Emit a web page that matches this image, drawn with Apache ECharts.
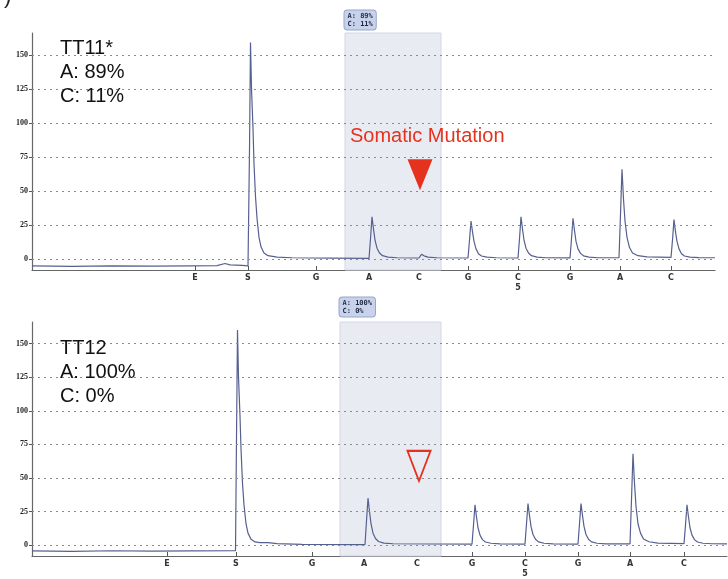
<!DOCTYPE html>
<html><head><meta charset="utf-8">
<script src="https://cdn.jsdelivr.net/npm/echarts@6/dist/echarts.min.js"></script>
<style>html,body{margin:0;padding:0;background:#fff}#c{width:728px;height:579px}</style>
</head><body><div id="c"></div>
<script>
const bases = ['E','S','G','A','C','G','C','G','A','C'];
const topTicks = [16.3, 21.6, 28.4, 33.7, 38.7, 43.6, 48.6, 53.8, 58.8, 63.9];
const botTicks = [13.5, 20.4, 28.0, 33.2, 38.5, 44.0, 49.3, 54.6, 59.8, 65.2];
const yTicks = [0, 25, 50, 75, 100, 125, 150];

const topTrace = [
  [0,-5],[4,-5.3],[8,-5],[12,-5.2],[16,-5],[18.5,-4.8],[19.3,-3.2],[19.8,-4.2],[21.0,-4.6],[21.6,-5],
  [21.75,80],[21.85,159],[21.95,125],[22.1,96],[22.2,70],[22.35,46],[22.5,30],[22.7,16],[22.9,9],[23.2,4.5],[23.6,2.5],[24.5,1.5],[26,1],[30,0.7],[33.7,0.5],
  [33.85,15],[34.0,31],[34.15,22],[34.3,14],[34.5,8],[34.75,4.5],[35.05,2.5],[35.6,1.5],[36.5,1],[38.7,0.8],
  [38.8,1],[38.95,3.5],[39.2,2.4],[39.6,1.5],[40.5,1],[43.6,0.8],
  [43.75,14],[43.9,28],[44.05,20],[44.2,13],[44.4,7.5],[44.65,4],[44.95,2.3],[45.5,1.4],[46.4,1],[48.6,0.8],
  [48.75,15],[48.9,31],[49.05,22],[49.2,14],[49.4,8],[49.65,4.5],[49.95,2.5],[50.5,1.5],[51.4,1],[53.8,0.9],
  [53.95,15],[54.1,30],[54.25,21],[54.4,13],[54.6,7.5],[54.85,4.2],[55.15,2.4],[55.7,1.5],[56.6,1],[58.7,1],
  [58.85,33],[59.0,66],[59.15,44],[59.3,28],[59.5,16],[59.75,8.5],[60.05,4.5],[60.6,2.5],[61.5,1.6],[63.9,1.2],
  [64.05,14],[64.2,29],[64.35,20],[64.5,13],[64.7,7.5],[64.95,4],[65.25,2.3],[65.8,1.5],[66.7,1.1],[68.3,1]
];
const botTrace = [
  [0,-4.2],[4,-4.5],[8,-4.1],[12,-4.4],[16,-4.2],[20.35,-4],
  [20.45,80],[20.55,160],[20.65,125],[20.8,96],[20.9,72],[21.05,46],[21.2,30],[21.4,16],[21.6,9],[21.9,4.5],[22.3,2.5],[22.8,2],[23.1,2],[23.3,3.2],[23.6,2],[24.5,1.2],[27,0.7],[33.3,0.5],
  [33.45,18],[33.6,35],[33.75,25],[33.9,16],[34.1,9],[34.35,5],[34.65,2.8],[35.2,1.6],[36.1,1.1],[44.0,0.8],
  [44.15,15],[44.3,30],[44.45,21],[44.6,13],[44.8,7.5],[45.05,4.2],[45.35,2.4],[45.9,1.5],[46.8,1],[49.3,0.9],
  [49.45,16],[49.6,31],[49.75,22],[49.9,14],[50.1,8],[50.35,4.5],[50.65,2.5],[51.2,1.5],[52.1,1],[54.6,0.9],
  [54.75,16],[54.9,31],[55.05,22],[55.2,14],[55.4,8],[55.65,4.5],[55.95,2.5],[56.5,1.5],[57.4,1],[59.8,1],
  [59.95,34],[60.1,68],[60.25,46],[60.4,29],[60.6,16],[60.85,9],[61.15,4.6],[61.7,2.6],[62.6,1.6],[65.2,1.2],
  [65.35,15],[65.5,30],[65.65,21],[65.8,13],[66.0,7.5],[66.25,4.2],[66.55,2.4],[67.1,1.5],[68.0,1.1],[69.5,1]
];
const topShade = [31.3, 40.9];
const botShade = [30.8, 40.9];
const topLabel = 'A: 89%\nC: 11%';
const botLabel = 'A: 100%\nC: 0%';
const topMarker = [[38.8, 62]];
const botMarker = [[38.7, 59]];

const chart = echarts.init(document.getElementById('c'));
function xAxisFor(idx, ticks, max) {
  return {
    type: 'value', gridIndex: idx, min: 0, max: max,
    axisLine: { onZero: false, lineStyle: { color: '#666', width: 1.2 } },
    axisTick: { show: true, inside: true, length: 4, customValues: ticks, lineStyle: { color: '#555' } },
    splitLine: { show: false },
    axisLabel: {
      customValues: ticks, margin: 3, color: '#333', fontSize: 8, fontWeight: 'bold',
      fontFamily: 'DejaVu Sans', lineHeight: 10,
      formatter: function (v) {
        for (let i = 0; i < ticks.length; i++) {
          if (Math.abs(v - ticks[i]) < 0.01) return i === 6 ? bases[i] + '\n5' : bases[i];
        }
        return '';
      }
    }
  };
}
function yAxisFor(idx) {
  return {
    type: 'value', gridIndex: idx, min: -8, max: 166,
    axisLine: { show: true, onZero: false, lineStyle: { color: '#666', width: 1.2 } },
    axisTick: { show: true, length: 3, customValues: yTicks, lineStyle: { color: '#555' } },
    splitLine: { show: false },
    axisLabel: { customValues: yTicks, margin: 4, color: '#222', fontSize: 8, fontWeight: 'bold', fontFamily: 'Liberation Serif' }
  };
}
function traceSeries(idx, data, shade, label, lblOffset) {
  return {
    type: 'line', xAxisIndex: idx, yAxisIndex: idx, data: data, showSymbol: false, symbol: 'none',
    lineStyle: { color: '#56608f', width: 1.2 }, z: 3, animation: false,
    markLine: {
      silent: true, symbol: 'none', label: { show: false },
      lineStyle: { color: '#8a8a8a', type: [2, 4], width: 1 },
      data: yTicks.map(v => ({ yAxis: v }))
    },
    markArea: {
      silent: true,
      itemStyle: { color: '#e9ebf3', opacity: 1, borderColor: '#d3d7e5', borderWidth: 1 },
      label: {
        show: true, position: [0, lblOffset], color: '#1f2a44', fontFamily: 'DejaVu Sans Mono',
        fontWeight: 'bold', fontSize: 7, lineHeight: 8, backgroundColor: '#c8d2ea',
        borderColor: '#97a6cc', borderWidth: 1, borderRadius: 3, padding: [2, 3, 1, 3]
      },
      data: [[{ xAxis: shade[0], name: label }, { xAxis: shade[1] }]]
    }
  };
}
chart.setOption({
  animation: false,
  grid: [
    { left: 32, top: 33, right: 13, bottom: 309 },
    { left: 32, top: 322, right: 1, bottom: 17 }
  ],
  xAxis: [xAxisFor(0, topTicks, 68.3), xAxisFor(1, botTicks, 69.5)],
  yAxis: [yAxisFor(0), yAxisFor(1)],
  series: [
    traceSeries(0, topTrace, topShade, topLabel, -22),
    traceSeries(1, botTrace, botShade, botLabel, -24),
    { type: 'scatter', xAxisIndex: 0, yAxisIndex: 0, data: topMarker, symbol: 'triangle', symbolRotate: 180,
      symbolSize: [25, 31], itemStyle: { color: '#e4321e', opacity: 1 }, z: 5 },
    { type: 'scatter', xAxisIndex: 1, yAxisIndex: 1, data: botMarker, symbol: 'triangle', symbolRotate: 180,
      symbolSize: [23, 30], itemStyle: { color: 'rgba(255,255,255,0)', opacity: 1, borderColor: '#e4321e', borderWidth: 2 }, z: 5 }
  ],
  graphic: [
    { type: 'text', left: 4, top: -14, style: { text: ')', font: '22px "Liberation Sans"', fill: '#222' } },
    { type: 'text', left: 60, top: 36, z: 10, style: { text: 'TT11*\nA: 89%\nC: 11%', font: '20px "Liberation Sans"', lineHeight: 24, fill: '#111' } },
    { type: 'text', left: 60, top: 336, z: 10, style: { text: 'TT12\nA: 100%\nC: 0%', font: '20px "Liberation Sans"', lineHeight: 24, fill: '#111' } },
    { type: 'text', left: 350, top: 126, z: 10, style: { text: 'Somatic Mutation', font: '20px "Liberation Sans"', fill: '#e4321e' } }
  ]
});
</script></body></html>
